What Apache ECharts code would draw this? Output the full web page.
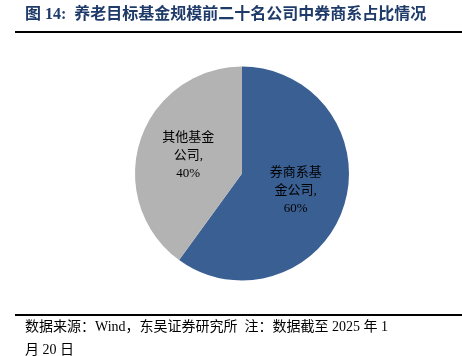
<!DOCTYPE html>
<html><head><meta charset="utf-8">
<script src="https://cdn.jsdelivr.net/npm/echarts@6/dist/echarts.min.js"></script>
<style>html,body{margin:0;padding:0;background:#fff}#c{width:462px;height:356px}</style>
</head><body><div id="c"></div>
<script>
const categories = ['券商系基\n金公司,', '其他基金\n公司,'];
const values = [60, 40];
const colors = ['#3A5F92', '#B3B3B3'];
const titleText = '图 14:  养老目标基金规模前二十名公司中券商系占比情况';
const sourceLine1 = '数据来源：Wind，东吴证券研究所  注：数据截至 2025 年 1';
const sourceLine2 = '月 20 日';
const serif = '"Liberation Serif","Noto Sans CJK SC",serif';

const chart = echarts.init(document.getElementById('c'), null, {renderer: 'canvas'});
chart.setOption({
  animation: false,
  backgroundColor: '#fff',
  graphic: [
    {type: 'text', left: 25, top: 7, style: {text: titleText, font: 'bold 16px ' + serif, fill: '#1F3B6A'}},
    {type: 'rect', shape: {x: 15, y: 31, width: 447, height: 2}, style: {fill: '#000'}},
    {type: 'rect', shape: {x: 15, y: 314, width: 447, height: 2}, style: {fill: '#000'}},
    {type: 'text', left: 25, top: 320, style: {text: sourceLine1, font: '14px ' + serif, fill: '#000'}},
    {type: 'text', left: 25, top: 343, style: {text: sourceLine2, font: '14px ' + serif, fill: '#000'}}
  ],
  series: [{
    type: 'pie',
    center: [242, 173.5],
    radius: [0, 107],
    startAngle: 90,
    clockwise: true,
    silent: true,
    itemStyle: {borderWidth: 0},
    label: {
      position: 'inside',
      formatter: p => p.name + '\n' + p.value + '%',
      color: '#000',
      fontFamily: serif,
      fontSize: 13,
      lineHeight: 18
    },
    labelLine: {show: false},
    data: categories.map((c, i) => ({name: c, value: values[i], itemStyle: {color: colors[i]}}))
  }]
});
</script></body></html>
